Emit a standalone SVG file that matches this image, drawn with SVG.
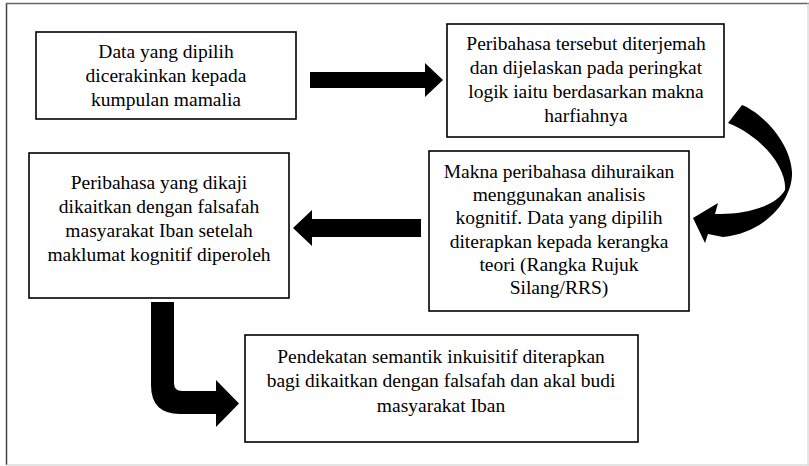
<svg xmlns="http://www.w3.org/2000/svg" width="809" height="466" viewBox="0 0 809 466">
<style>
.box{fill:#fff;stroke:#000;stroke-width:1.6}
text{font-family:'Liberation Serif','Times New Roman',serif;font-size:19.5px;fill:#000;text-anchor:middle}
.arr{fill:#000;stroke:none}
</style>
<rect x="0" y="0" width="809" height="466" fill="#fff"/>
<g id="frame">
<line x1="6.5" y1="3" x2="6.5" y2="465" stroke="#444" stroke-width="1.5"/>
<line x1="6" y1="3.5" x2="809" y2="3.5" stroke="#666" stroke-width="1.5"/>
<line x1="6" y1="465" x2="809" y2="465" stroke="#ccc" stroke-width="1.2"/>
<line x1="808" y1="3" x2="808" y2="465" stroke="#ccc" stroke-width="1"/>
</g>
<g id="n1">
<rect class="box" x="36" y="32" width="260" height="87"/>
<text x="166" y="58">Data yang dipilih</text>
<text x="166" y="82">dicerakinkan kepada</text>
<text x="166" y="106">kumpulan mamalia</text>
</g>
<g id="n2">
<rect class="box" x="447" y="24" width="277" height="113"/>
<text x="586" y="50">Peribahasa tersebut diterjemah</text>
<text x="586" y="74">dan dijelaskan pada peringkat</text>
<text x="586" y="98">logik iaitu berdasarkan makna</text>
<text x="586" y="122">harfiahnya</text>
</g>
<g id="n3">
<rect class="box" x="429" y="151" width="260" height="160"/>
<text x="559" y="178">Makna peribahasa dihuraikan</text>
<text x="559" y="201">menggunakan analisis</text>
<text x="559" y="224">kognitif. Data yang dipilih</text>
<text x="559" y="248">diterapkan kepada kerangka</text>
<text x="559" y="271">teori (Rangka Rujuk</text>
<text x="559" y="294">Silang/RRS)</text>
</g>
<g id="n4">
<rect class="box" x="29" y="153" width="260" height="145"/>
<text x="159" y="189">Peribahasa yang dikaji</text>
<text x="159" y="213">dikaitkan dengan falsafah</text>
<text x="159" y="237">masyarakat Iban setelah</text>
<text x="159" y="261">maklumat kognitif diperoleh</text>
</g>
<g id="n5">
<rect class="box" x="245" y="335" width="393" height="107"/>
<text x="441" y="363">Pendekatan semantik inkuisitif diterapkan</text>
<text x="441" y="387">bagi dikaitkan dengan falsafah dan akal budi</text>
<text x="441" y="412">masyarakat Iban</text>
</g>
<g id="connectors">
<path class="arr" d="M310 72 L425 72 L425 63 L443 80 L425 97 L425 88 L310 88 Z"/>
<path class="arr" d="M742 105 C760 112 790 140 792 172 C793 200 765 233 723 237 L708 234 L705 243 L693 218 L718 203 L715 214 C745 215 775 207 785 190 C787 170 765 138 728 123 Z"/>
<path class="arr" d="M421 219 L312 219 L312 210 L293 228 L312 246 L312 237 L421 237 Z"/>
<path class="arr" d="M151 302 L174 302 L174 383 Q174 391 182 391 L216 391 L216 380 L239 403.5 L216 427 L216 414 L180 414 Q151 414 151 385 Z"/>
</g>
</svg>
